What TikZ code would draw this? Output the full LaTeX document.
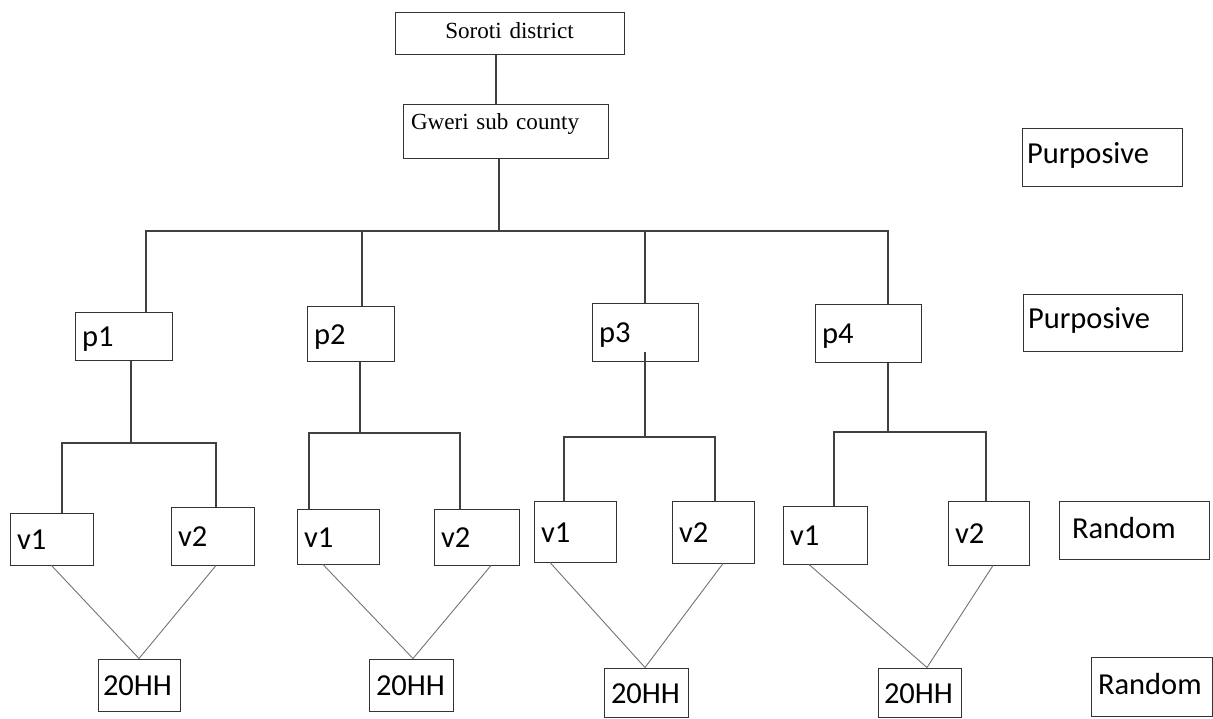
\documentclass[tikz,border=0pt]{standalone}
\usepackage{fontspec}
\newfontfamily\calibrifont{Carlito}
\newfontfamily\timesfont{Liberation Serif}

\tikzset{
  box/.style={draw=black!80, line width=1pt, inner xsep=7pt, inner ysep=0pt, align=left,
    text height=21pt, text depth=0pt,
    font=\calibrifont\fontsize{30.5}{35}\selectfont},
  serifbox/.style={box, font=\timesfont\fontsize{23.1}{27}\selectfont},
  tie/.style={black!75, line width=1.1pt},
  twig/.style={black!55, line width=0.9pt}
}

\begin{document}
\begin{tikzpicture}[x=1pt, y=-1pt]
                \useasboundingbox (0,0) rectangle (1213,718);

                % district and sub county
                \node[serifbox, align=center, text width=215pt, minimum height=42pt, text height=16pt, text depth=6pt] (soroti) at (509.5,33) {Soroti district};
                \node[serifbox, inner xsep=8pt, inner ysep=6.5pt, text width=189pt, text height=19pt, text depth=22pt] (gweri) at (505.5,131) {Gweri sub county};
                \coordinate (s0) at (496,80);
                \draw[tie] (soroti.south -| s0) -- (gweri.north -| s0);

                % parishes
                \node[box, text width=83pt, minimum height=48pt] (p1) at (123.5,336) {p1};
                \node[box, text width=73pt, minimum height=55pt] (p2) at (350.5,333.5) {p2};
                \node[box, text width=92pt, minimum height=58pt] (p3) at (645,332) {p3};
                \node[box, text width=92pt, minimum height=58pt] (p4) at (868,333) {p4};

                \coordinate (t0) at (499,231);
                \coordinate (t1) at (146,231);
                \coordinate (t2) at (362,231);
                \coordinate (t3) at (645,231);
                \coordinate (t4) at (888,231);
                \draw[tie] (gweri.south -| t0) -- (t0);
                \draw[tie] (t1 |- p1.north) -- (t1) -- (t4) -- (t4 |- p4.north);
                \draw[tie] (t2) -- (t2 |- p2.north);
                \draw[tie] (t3) -- (t3 |- p3.north);

                % villages
                \node[box, text width=69pt, minimum height=52pt] (v11) at (51.5,539) {v1};
                \node[box, text width=69pt, minimum height=58pt] (v12) at (212.5,536) {v2};
                \node[box, text width=68pt, minimum height=55pt] (v21) at (338,536.5) {v1};
                \node[box, text width=71pt, minimum height=56pt] (v22) at (476.5,537) {v2};
                \node[box, text width=68pt, minimum height=61pt] (v31) at (575,531.5) {v1};
                \node[box, text width=68pt, minimum height=62pt] (v32) at (713,532) {v2};
                \node[box, text width=70pt, minimum height=58pt] (v41) at (825,535) {v1};
                \node[box, text width=67pt, minimum height=64pt] (v42) at (988.5,533) {v2};

                \coordinate (j1) at (131,443);
                \coordinate (a1) at (62,443);
                \coordinate (b1) at (216,443);
                \draw[tie] (p1.south -| j1) -- (j1);
                \draw[tie] (a1 |- v11.north) -- (a1) -- (b1) -- (b1 |- v12.north);

                \coordinate (j2) at (360,433);
                \coordinate (a2) at (309,433);
                \coordinate (b2) at (460,433);
                \draw[tie] (p2.south -| j2) -- (j2);
                \draw[tie] (a2 |- v21.north) -- (a2) -- (b2) -- (b2 |- v22.north);

                \coordinate (j3) at (645,437);
                \coordinate (a3) at (564,437);
                \coordinate (b3) at (715,437);
                \draw[tie] ([yshift=10pt]p3.south) -- (j3);
                \draw[tie] (a3 |- v31.north) -- (a3) -- (b3) -- (b3 |- v32.north);

                \coordinate (j4) at (888,432);
                \coordinate (a4) at (834,432);
                \coordinate (b4) at (986,432);
                \draw[tie] (p4.south -| j4) -- (j4);
                \draw[tie] (a4 |- v41.north) -- (a4) -- (b4) -- (b4 |- v42.north);

                % households
                \node[box, inner xsep=5pt, text width=72pt, minimum height=52pt] (hh1) at (139,685) {20HH};
                \node[box, text width=70pt, minimum height=52pt] (hh2) at (411,685) {20HH};
                \node[box, text width=70pt, minimum height=49pt] (hh3) at (646,692.5) {20HH};
                \node[box, inner xsep=6pt, text width=71pt, minimum height=49pt] (hh4) at (919.5,692.5) {20HH};

                \draw[twig] (v11.south) -- (hh1.north) -- ([xshift=3.5pt]v12.south);
                \draw[twig] ([xshift=-15pt]v21.south) -- ([xshift=2pt]hh2.north) -- ([xshift=14.5pt]v22.south);
                \draw[twig] ([xshift=-25pt]v31.south) -- ([xshift=-1pt]hh3.north) -- ([xshift=10pt]v32.south);
                \draw[twig] ([xshift=-16pt]v41.south) -- ([xshift=7.5pt]hh4.north) -- ([xshift=4.5pt]v42.south);

                % sampling methods
                \node[box, inner xsep=5pt, text width=150pt, minimum height=58pt, text depth=9pt] (pur1) at (1102,157) {Purposive};
                \node[box, inner xsep=5pt, text width=149pt, minimum height=57pt, text depth=9pt] (pur2) at (1102.5,322.5) {Purposive};
                \node[box, inner xsep=13pt, text width=124pt, minimum height=58pt, text depth=5pt] (rand1) at (1134,530) {Random};
                \node[box, text width=107pt, minimum height=59pt, text depth=6pt] (rand2) at (1151.5,686.5) {Random};
            \end{tikzpicture}
\end{document}
